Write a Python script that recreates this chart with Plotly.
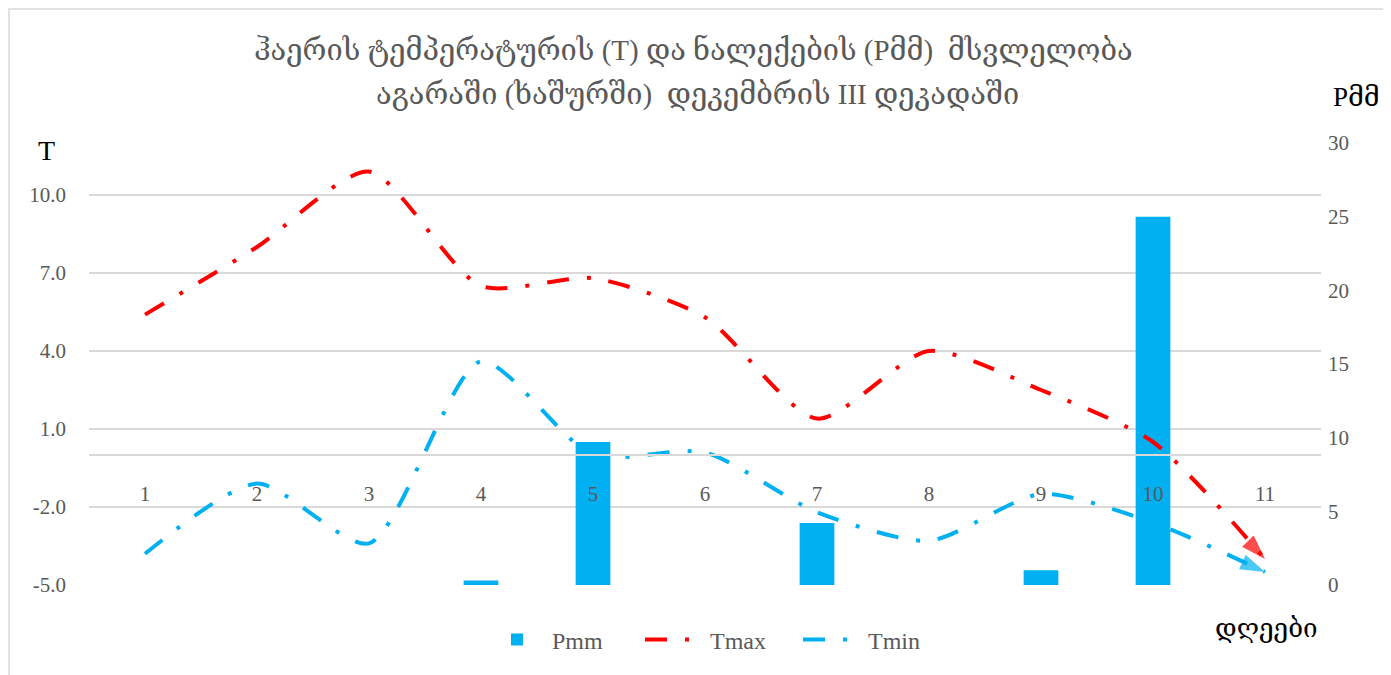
import plotly.graph_objects as go

days = ["1", "2", "3", "4", "5", "6", "7", "8", "9", "10", "11"]
pmm = [0, 0, 0, 0.3, 9.7, 0, 4.2, 0, 1.0, 25.0, 0]
tmax = [5.4, 8.0, 10.9, 6.5, 6.8, 5.3, 1.4, 4.0, 2.5, 0.5, -4.0]
tmin = [-3.8, -1.1, -3.4, 3.6, 0.0, 0.1, -2.2, -3.3, -1.5, -2.6, -4.5]
t_ticks = [-5, -2, 1, 4, 7, 10]
t_labels = ["-5.0", "-2.0", "1.0", "4.0", "7.0", "10.0"]

title1 = "ჰაერის ტემპერატურის (T) და ნალექების (Pმმ)  მსვლელობა"
title2 = "აგარაში (ხაშურში)  დეკემბრის III დეკადაში"

FONT = "Liberation Serif, DejaVu Serif, serif"
GRAY = "#595959"
RED = "#FF0000"
BLUE = "#00B0F0"
DASH = "22px,18px,4px,18px"

OFF = 8  # page body margin
W, H = 1391 - OFF, 675 - OFF
# plot area in screen pixels
SL, SR, ST, SB = 89, 1321, 143, 585
L, R, T, B = SL - OFF, W - (SR - OFF), ST - OFF, H - (SB - OFF)
pw, ph = W - L - R, H - T - B

def px2x(px):
    return (px - SL) / pw

def py2y(py):
    return (SB - py) / ph

fig = go.Figure()

fig.add_trace(go.Bar(x=days, y=pmm, name="Pmm", marker=dict(color=BLUE, line=dict(width=0)),
                     width=0.31, yaxis="y"))

for name, vals, col in [("Tmax", tmax, RED), ("Tmin", tmin, BLUE)]:
    fig.add_trace(go.Scatter(x=days, y=vals, name=name, mode="lines", yaxis="y2",
                             line=dict(color=col, width=4, dash=DASH, shape="spline", smoothing=0.7),
                             legendgroup=name))
    fig.add_trace(go.Scatter(x=days[-2:], y=vals[-2:], mode="markers", yaxis="y2", showlegend=False,
                             legendgroup=name, hoverinfo="skip",
                             marker=dict(symbol="arrow", angleref="previous", size=[0, 26],
                                         color=col, line=dict(width=0))))

fig.update_layout(
    width=W, height=H,
    margin=dict(l=L, r=R, t=T, b=B),
    paper_bgcolor="white", plot_bgcolor="white",
    font=dict(family=FONT, color=GRAY, size=21),
    xaxis=dict(type="category", anchor="free", position=5 / 17, showline=True, linecolor="#D9D9D9",
               linewidth=1.5, showgrid=False, ticks="", ticklabelstandoff=20, zeroline=False,
               tickfont=dict(size=21, color=GRAY), range=[-0.5, 10.5]),
    yaxis=dict(side="right", range=[0, 30], dtick=5, tick0=0, showgrid=False, zeroline=False,
               ticks="", ticklabelstandoff=6, tickfont=dict(size=21, color=GRAY)),
    yaxis2=dict(side="left", overlaying="y", range=[-5, 12], tickmode="array", tickvals=t_ticks,
                ticktext=t_labels,
                showgrid=True, gridcolor="#D9D9D9", gridwidth=1.5, zeroline=False, ticks="",
                ticklabelstandoff=22, tickfont=dict(size=21, color=GRAY)),
    legend=dict(orientation="h", x=px2x(482), xanchor="left", y=py2y(640), yanchor="middle",
                font=dict(size=24, color=GRAY), itemwidth=60, tracegroupgap=0, entrywidth=83,
                entrywidthmode="pixels"),
    showlegend=True,
)

fig.add_annotation(text=title1, x=px2x(693), y=py2y(50), xref="paper", yref="paper",
                   showarrow=False, font=dict(size=29, color=GRAY), xanchor="center", yanchor="middle")
fig.add_annotation(text=title2, x=px2x(697), y=py2y(95), xref="paper", yref="paper",
                   showarrow=False, font=dict(size=29, color=GRAY), xanchor="center", yanchor="middle")
fig.add_annotation(text="T", x=px2x(46), y=py2y(150), xref="paper", yref="paper",
                   showarrow=False, font=dict(size=28, color="black"), xanchor="center", yanchor="middle")
fig.add_annotation(text="Pმმ", x=px2x(1356), y=py2y(97), xref="paper", yref="paper",
                   showarrow=False, font=dict(size=27, color="black"), xanchor="center", yanchor="middle")
fig.add_annotation(text="დღეები", x=px2x(1266), y=py2y(628), xref="paper", yref="paper",
                   showarrow=False, font=dict(size=26, color="black"), xanchor="center", yanchor="middle")

fig.add_shape(type="rect", xref="paper", yref="paper", x0=px2x(9), x1=px2x(1384),
              y0=py2y(720), y1=py2y(9), line=dict(color="#D9D9D9", width=1.5), fillcolor="rgba(0,0,0,0)",
              layer="below")

fig.write_html("out.html")
